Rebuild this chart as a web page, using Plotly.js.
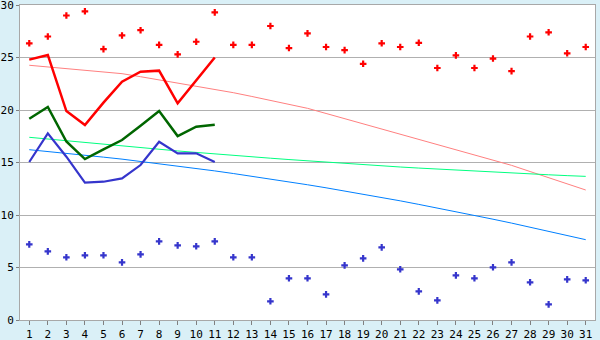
<!DOCTYPE html>
<html>
<head>
<meta charset="utf-8">
<script src="https://cdn.plot.ly/plotly-3.0.1.min.js"></script>
<style>html,body{margin:0;padding:0;background:#DAF0F7;}#chart{width:600px;height:340px;}</style>
</head>
<body>
<div id="chart"></div>
<script>
// Days of the month (category axis)
const days = [1,2,3,4,5,6,7,8,9,10,11,12,13,14,15,16,17,18,19,20,21,22,23,24,25,26,27,28,29,30,31];

// Daily max (red points) and min (blue points)
const dailyMax = [26.35,27.0,29.0,29.4,25.8,27.1,27.6,26.2,25.3,26.5,29.3,26.2,26.2,28.0,25.9,27.3,26.0,25.7,24.4,26.35,26.0,26.4,24.0,25.2,24.0,24.9,23.7,27.0,27.4,25.4,26.0];
const dailyMin = [7.2,6.54,5.97,6.16,6.16,5.49,6.25,7.49,7.11,7.02,7.49,5.97,5.97,1.78,3.97,3.97,2.44,5.2,5.87,6.92,4.83,2.73,1.87,4.25,3.97,5.02,5.49,3.59,1.49,3.87,3.78];

// Lines for the first 11 days
const lineDays = [1,2,3,4,5,6,7,8,9,10,11];
const redLine = [24.8,25.24,19.9,18.57,20.7,22.7,23.65,23.75,20.63,22.8,25.0];
const greenLine = [19.17,20.29,17.0,15.33,16.25,17.14,18.5,19.9,17.52,18.41,18.6];
const blueLine = [15.05,17.78,15.55,13.08,13.17,13.49,14.76,16.98,15.87,15.87,15.05];

// Trend lines over the month
const pinkTrend = [24.26,24.11,23.95,23.79,23.63,23.46,23.17,22.87,22.56,22.24,21.93,21.65,21.29,20.93,20.57,20.16,19.67,19.18,18.68,18.18,17.68,17.2,16.72,16.24,15.76,15.27,14.73,14.14,13.55,12.96,12.38];
const greenTrend = [17.40,17.23,17.06,16.89,16.72,16.56,16.41,16.25,16.10,15.96,15.81,15.67,15.54,15.41,15.28,15.15,15.03,14.91,14.79,14.68,14.57,14.47,14.37,14.27,14.17,14.08,14.00,13.91,13.83,13.75,13.68];
const blueTrend = [16.22,16.06,15.88,15.70,15.51,15.32,15.11,14.90,14.67,14.44,14.20,13.95,13.70,13.43,13.16,12.88,12.59,12.29,11.98,11.67,11.35,11.01,10.67,10.33,9.97,9.60,9.23,8.85,8.46,8.06,7.65];

const yTicks = [0,5,10,15,20,25,30];
const yTickText = ['0','5','10','15','20','25','30'];

const traces = [
  {x: days, y: pinkTrend, mode: 'lines', line: {color: '#FF8080', width: 1}},
  {x: days, y: greenTrend, mode: 'lines', line: {color: '#00FF80', width: 1}},
  {x: days, y: blueTrend, mode: 'lines', line: {color: '#0080FF', width: 1}},
  {x: lineDays, y: redLine, mode: 'lines', line: {color: '#FF0000', width: 2.5}},
  {x: lineDays, y: greenLine, mode: 'lines', line: {color: '#006600', width: 2.5}},
  {x: lineDays, y: blueLine, mode: 'lines', line: {color: '#3535CC', width: 2.2}},
  {x: days, y: dailyMax, mode: 'markers', marker: {symbol: 'cross', size: 5.5, color: '#FF0000', line: {width: 0}}},
  {x: days, y: dailyMin, mode: 'markers', marker: {symbol: 'cross', size: 5.5, color: '#3535CC', line: {width: 0}}}
];

const layout = {
  width: 600, height: 340,
  paper_bgcolor: '#DAF0F7',
  plot_bgcolor: '#FFFFFF',
  margin: {l: 20, r: 5, t: 5, b: 20, pad: 0},
  showlegend: false,
  font: {family: 'DejaVu Sans Mono, monospace', size: 11, color: '#000000'},
  xaxis: {
    range: [0.5, 31.5],
    tickvals: days,
    ticktext: days.map(String),
    showgrid: false,
    zeroline: false,
    showline: true, mirror: true, linecolor: '#A8A8A8', linewidth: 1,
    ticks: 'outside', ticklen: 4, tickcolor: '#808080',
    ticklabeloverflow: 'allow',
    tickfont: {family: 'DejaVu Sans Mono, monospace', size: 11}
  },
  yaxis: {
    range: [0, 30],
    tickvals: yTicks,
    ticktext: yTickText,
    showgrid: true, gridcolor: '#B0B0B0', gridwidth: 1,
    zeroline: false,
    showline: true, mirror: true, linecolor: '#A8A8A8', linewidth: 1,
    ticks: 'outside', ticklen: 3, tickcolor: '#808080',
    ticklabeloverflow: 'allow',
    tickfont: {family: 'DejaVu Sans Mono, monospace', size: 11}
  }
};

Plotly.newPlot('chart', traces, layout, {displayModeBar: false, staticPlot: true});
</script>
</body>
</html>
